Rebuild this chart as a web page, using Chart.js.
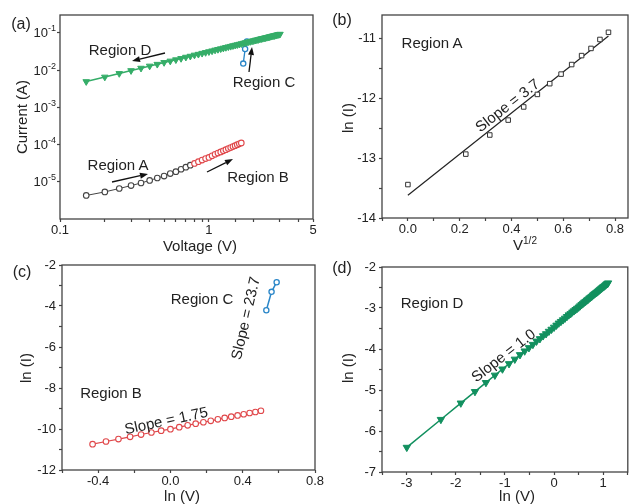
<!DOCTYPE html>
<html lang="en">
<head>
<meta charset="UTF-8">
<title>Conduction regions</title>
<script src="https://cdn.jsdelivr.net/npm/chart.js@4.4.1/dist/chart.umd.min.js"></script>
<style>
  body { margin: 0; background: #fff; }
  #page { position: relative; width: 633px; height: 504px; overflow: hidden;
          font-family: "Liberation Sans", Arial, sans-serif; color: #222; }
  canvas { position: absolute; }
  .t { position: absolute; white-space: nowrap; font-size: 15px; line-height: 1;
       transform: translate(-50%, -50%); }
  .t sup { font-size: 10px; }
</style>
</head>
<body>
<div id="page">
  <canvas id="ca" width="320" height="240" style="left:0;top:0"></canvas>
  <canvas id="cb" width="313" height="240" style="left:320px;top:0"></canvas>
  <canvas id="cc" width="330" height="240" style="left:0;top:250px"></canvas>
  <canvas id="cd" width="313" height="242" style="left:320px;top:250px"></canvas>

  <!-- panel a -->
  <div class="t" style="left:21px;top:24px;font-size:16px">(a)</div>
  <div class="t" style="left:120px;top:49px">Region D</div>
  <div class="t" style="left:264px;top:81px">Region C</div>
  <div class="t" style="left:118px;top:164px">Region A</div>
  <div class="t" style="left:258px;top:176px">Region B</div>
  <div class="t" style="left:21px;top:117px;transform:translate(-50%,-50%) rotate(-90deg)">Current (A)</div>
  <div class="t" style="left:200px;top:245px">Voltage (V)</div>

  <!-- panel b -->
  <div class="t" style="left:342px;top:20px;font-size:16px">(b)</div>
  <div class="t" style="left:432px;top:42px">Region A</div>
  <div class="t" style="left:507px;top:105px;transform:translate(-50%,-50%) rotate(-38deg)">Slope = 3.7</div>
  <div class="t" style="left:347px;top:118px;transform:translate(-50%,-50%) rotate(-90deg)">ln (I)</div>
  <div class="t" style="left:525px;top:244px">V<sup>1/2</sup></div>

  <!-- panel c -->
  <div class="t" style="left:22px;top:272px;font-size:16px">(c)</div>
  <div class="t" style="left:202px;top:298px">Region C</div>
  <div class="t" style="left:245px;top:318px;transform:translate(-50%,-50%) rotate(-77deg)">Slope = 23.7</div>
  <div class="t" style="left:111px;top:392px">Region B</div>
  <div class="t" style="left:166px;top:420px;transform:translate(-50%,-50%) rotate(-12deg)">Slope = 1.75</div>
  <div class="t" style="left:25px;top:368px;transform:translate(-50%,-50%) rotate(-90deg)">ln (I)</div>
  <div class="t" style="left:182px;top:495px">ln (V)</div>

  <!-- panel d -->
  <div class="t" style="left:342px;top:268px;font-size:16px">(d)</div>
  <div class="t" style="left:432px;top:302px">Region D</div>
  <div class="t" style="left:503px;top:355px;transform:translate(-50%,-50%) rotate(-38deg)">Slope = 1.0</div>
  <div class="t" style="left:347px;top:368px;transform:translate(-50%,-50%) rotate(-90deg)">ln (I)</div>
  <div class="t" style="left:517px;top:495px">ln (V)</div>
</div>

<script>
// Region A: forward sweep, low bias (V in volts, ln of current in A)
const vA = [0, 0.05, 0.1, 0.15, 0.2, 0.25, 0.3, 0.35, 0.4, 0.45, 0.5, 0.55, 0.6];
const lnIA = [-13.44, -12.93, -12.61, -12.36, -12.14, -11.93, -11.75, -11.59, -11.43, -11.28, -11.16, -11.01, -10.89];

// Region B
const vB = [0.65, 0.7, 0.75, 0.8, 0.85, 0.9, 0.95, 1.0, 1.05, 1.1, 1.15,
            1.2, 1.25, 1.3, 1.35, 1.4, 1.45, 1.5, 1.55, 1.6, 1.65];
const lnIB = [-10.74, -10.61, -10.49, -10.38, -10.27, -10.17, -10.08, -10.01, -9.91, -9.82, -9.74,
              -9.67, -9.60, -9.53, -9.46, -9.40, -9.34, -9.28, -9.22, -9.17, -9.11];

// Region C: the jump
const vC = [1.7, 1.75, 1.8];
const lnIC = [-4.21, -3.31, -2.84];

// Region D: reverse sweep
const vD = [0.05, 0.1, 0.15, 0.2, 0.25, 0.3, 0.35, 0.4, 0.45, 0.5,
            0.55, 0.6, 0.65, 0.7, 0.75, 0.8, 0.85, 0.9, 0.95, 1.0,
            1.05, 1.1, 1.15, 1.2, 1.25, 1.3, 1.35, 1.4, 1.45, 1.5,
            1.55, 1.6, 1.65, 1.7, 1.75, 1.8, 1.85, 1.9, 1.95, 2.0,
            2.05, 2.1, 2.15, 2.2, 2.25, 2.3, 2.35, 2.4, 2.45, 2.5,
            2.55, 2.6, 2.65, 2.7, 2.75, 2.8, 2.85, 2.9, 2.95, 3.0];
const lnID = [-6.40, -5.72, -5.32, -5.04, -4.82, -4.64, -4.49, -4.36, -4.25, -4.14,
              -4.05, -3.97, -3.89, -3.81, -3.75, -3.68, -3.63, -3.57, -3.52, -3.47,
              -3.42, -3.37, -3.33, -3.29, -3.25, -3.21, -3.17, -3.14, -3.10, -3.07,
              -3.04, -3.01, -2.98, -2.95, -2.92, -2.89, -2.86, -2.84, -2.81, -2.79,
              -2.76, -2.74, -2.72, -2.69, -2.67, -2.65, -2.63, -2.61, -2.59, -2.57,
              -2.55, -2.53, -2.51, -2.49, -2.48, -2.46, -2.44, -2.42, -2.41, -2.39];

// log-axis labels for panel a
const yDecades = [-5, -4, -3, -2, -1];
const xLogLabels = [0.1, 1, 5];

const ink = '#222';
const frameColor = '#444';
const fontFamily = '"Liberation Sans", Arial, sans-serif';
const tickFont = { family: fontFamily, size: 13 };
const red = '#e0474a', blue = '#2a86c8', greenA = '#35ad68', greenD = '#12905f';

function pts(xs, ys, fx, fy) {
  return xs.map((x, i) => ({ x: fx(x), y: fy(ys[i]) }));
}
const id = v => v;

// least squares line over the data, drawn across the data range
function fit(xs, ys) {
  const n = xs.length;
  const mx = xs.reduce((a, b) => a + b, 0) / n;
  const my = ys.reduce((a, b) => a + b, 0) / n;
  let sxy = 0, sxx = 0;
  xs.forEach((x, i) => { sxy += (x - mx) * (ys[i] - my); sxx += (x - mx) * (x - mx); });
  const b = sxy / sxx, a = my - b * mx;
  return [{ x: xs[0], y: a + b * xs[0] }, { x: xs[n - 1], y: a + b * xs[n - 1] }];
}

const frame = {
  id: 'frame',
  afterDraw(chart) {
    const { ctx, chartArea: c } = chart;
    ctx.save();
    ctx.strokeStyle = frameColor;
    ctx.lineWidth = 1.3;
    ctx.strokeRect(c.left, c.top, c.right - c.left, c.bottom - c.top);
    ctx.restore();
  }
};

// 10^n labels with a raised exponent, placed at the y scale's own ticks
const decadeLabels = {
  id: 'decadeLabels',
  afterDraw(chart) {
    const s = chart.scales.y, ctx = chart.ctx;
    ctx.save();
    ctx.fillStyle = ink;
    ctx.textBaseline = 'middle';
    s.ticks.forEach(t => {
      const y = s.getPixelForValue(t.value);
      const e = String(Math.round(Math.log10(t.value)));
      ctx.font = '9px ' + fontFamily;
      const we = ctx.measureText(e).width;
      ctx.font = '13px ' + fontFamily;
      const wb = ctx.measureText('10').width;
      const x0 = s.right - 4 - we - wb;
      ctx.fillText('10', x0, y + 1);
      ctx.font = '9px ' + fontFamily;
      ctx.fillText(e, x0 + wb, y - 4);
    });
    ctx.restore();
  }
};

// the four annotation arrows of panel a (pixel positions)
const arrowsA = [[165, 53, 132, 61], [249, 72, 252, 47], [112, 182, 148, 174], [207, 172, 233, 159]];
const arrows = {
  id: 'arrows',
  afterDraw(chart) {
    const ctx = chart.ctx;
    ctx.save();
    ctx.strokeStyle = '#111';
    ctx.fillStyle = '#111';
    ctx.lineWidth = 1.3;
    arrowsA.forEach(([x1, y1, x2, y2]) => {
      const ang = Math.atan2(y2 - y1, x2 - x1);
      const L = 8, W = 3;
      const bx = x2 - L * Math.cos(ang), by = y2 - L * Math.sin(ang);
      ctx.beginPath(); ctx.moveTo(x1, y1); ctx.lineTo(bx, by); ctx.stroke();
      ctx.beginPath();
      ctx.moveTo(x2, y2);
      ctx.lineTo(bx + W * Math.sin(ang), by - W * Math.cos(ang));
      ctx.lineTo(bx - W * Math.sin(ang), by + W * Math.cos(ang));
      ctx.closePath(); ctx.fill();
    });
    ctx.restore();
  }
};

function linAxis(min, max, step, every, dec, size, pad) {
  return {
    type: 'linear', min, max,
    grid: { drawOnChartArea: false, tickLength: 3, color: frameColor, tickWidth: 1.2 },
    border: { display: false },
    ticks: {
      stepSize: step, includeBounds: false, autoSkip: false, maxRotation: 0,
      padding: pad, color: ink, font: tickFont,
      callback: v => {
        const k = v / every;
        if (Math.abs(k - Math.round(k)) > 1e-6) return '';
        return (Math.abs(v) < 1e-9 ? 0 : v).toFixed(dec);
      }
    },
    afterFit: s => { if (s.isHorizontal()) s.height = size; else s.width = size; }
  };
}

const common = {
  responsive: false,
  animation: false,
  devicePixelRatio: 1,
  plugins: { legend: { display: false }, tooltip: { enabled: false } }
};

// ---- panel a: I-V on log-log axes
const exp = v => Math.exp(v);
const lowV = vA.concat(vB), lowLn = lnIA.concat(lnIB);
const blackPts = pts(lowV, lowLn, id, exp).filter(p => p.x >= 0.15 && p.x < 0.78);
const redPts = pts(vB, lnIB, id, exp).filter(p => p.x >= 0.78);

new Chart(document.getElementById('ca'), {
  type: 'scatter',
  data: {
    datasets: [
      { data: pts(vD, lnID, id, exp).filter(p => p.x >= 0.15), showLine: true,
        borderColor: greenA, backgroundColor: greenA, borderWidth: 1.5,
        pointStyle: 'triangle', rotation: 180, pointRadius: 3.8, pointBorderWidth: 1 },
      { data: pts(vC, lnIC, id, exp), showLine: true, borderColor: blue, backgroundColor: '#fff',
        borderWidth: 1.3, pointRadius: 2.6, pointBorderWidth: 1.3 },
      { data: redPts, showLine: true, borderColor: red, backgroundColor: '#fff',
        borderWidth: 1, pointRadius: 2.8, pointBorderWidth: 1.1 },
      { data: blackPts, showLine: true, borderColor: '#444', backgroundColor: '#fff',
        borderWidth: 1, pointRadius: 2.8, pointBorderWidth: 1.1 }
    ]
  },
  options: Object.assign({}, common, {
    layout: { padding: { left: 0, right: 7, top: 15, bottom: 0 } },
    scales: {
      x: {
        type: 'logarithmic', min: 0.1, max: 5,
        grid: { drawOnChartArea: false, tickLength: 3, color: frameColor, tickWidth: 1.2 },
        border: { display: false },
        ticks: {
          autoSkip: false, maxRotation: 0, padding: 1, color: ink, font: tickFont,
          callback: v => {
            const hit = xLogLabels.find(t => Math.abs(v - t) < 1e-6);
            return hit === undefined ? '' : String(hit);
          }
        },
        afterFit: s => { s.height = 21; }
      },
      y: {
        type: 'logarithmic', min: 1e-6, max: 0.3,
        grid: { drawOnChartArea: false, tickLength: 3, color: frameColor, tickWidth: 1.2 },
        border: { display: false },
        afterBuildTicks: s => {
          s.ticks = yDecades.map(e => ({ value: Math.pow(10, e) }));
        },
        ticks: { autoSkip: false, padding: 2, font: tickFont, callback: () => '' },
        afterFit: s => { s.width = 60; }
      }
    }
  }),
  plugins: [frame, arrows, decadeLabels]
});

// ---- panel b: ln(I) vs V^1/2, region A
const sqrtV = vA.map(v => Math.sqrt(v));
new Chart(document.getElementById('cb'), {
  type: 'scatter',
  data: {
    datasets: [
      { data: pts(sqrtV, lnIA, id, id), pointStyle: 'rect', pointRadius: 3.2,
        borderColor: '#333', backgroundColor: '#fff', pointBorderWidth: 1 },
      { data: fit(sqrtV, lnIA), showLine: true, pointRadius: 0, borderColor: '#222', borderWidth: 1.2 }
    ]
  },
  options: Object.assign({}, common, {
    layout: { padding: { left: 0, right: 1, top: 15, bottom: 0 } },
    scales: {
      x: linAxis(-0.1, 0.85, 0.1, 0.2, 1, 22, 1),
      y: linAxis(-14, -10.6, 0.5, 1, 0, 62, 3)
    }
  }),
  plugins: [frame]
});

// ---- panel c: ln(I) vs ln(V), regions B and C
const ln = v => Math.log(v);
new Chart(document.getElementById('cc'), {
  type: 'scatter',
  data: {
    datasets: [
      { data: pts(vC, lnIC, ln, id), showLine: true, borderColor: blue, backgroundColor: '#fff',
        borderWidth: 1.5, pointRadius: 2.6, pointBorderWidth: 1.3 },
      { data: pts(vB, lnIB, ln, id), showLine: true, borderColor: red, backgroundColor: '#fff',
        borderWidth: 1.2, pointRadius: 2.8, pointBorderWidth: 1.1 }
    ]
  },
  options: Object.assign({}, common, {
    layout: { padding: { left: 0, right: 15, top: 15, bottom: 0 } },
    scales: {
      x: linAxis(-0.6, 0.8, 0.2, 0.4, 1, 20, 1),
      y: linAxis(-12, -2, 1, 2, 0, 62, 3)
    }
  }),
  plugins: [frame]
});

// ---- panel d: ln(I) vs ln(V), region D
new Chart(document.getElementById('cd'), {
  type: 'scatter',
  data: {
    datasets: [
      { data: pts(vD, lnID, ln, id), showLine: true, borderColor: greenD, backgroundColor: greenD,
        borderWidth: 1.5, pointStyle: 'triangle', rotation: 180, pointRadius: 4.2, pointBorderWidth: 1 }
    ]
  },
  options: Object.assign({}, common, {
    layout: { padding: { left: 0, right: 1, top: 17, bottom: 0 } },
    scales: {
      x: linAxis(-3.5, 1.5, 0.5, 1, 0, 20, 1),
      y: linAxis(-7, -2, 0.5, 1, 0, 62, 3)
    }
  }),
  plugins: [frame]
});
</script>
</body>
</html>
